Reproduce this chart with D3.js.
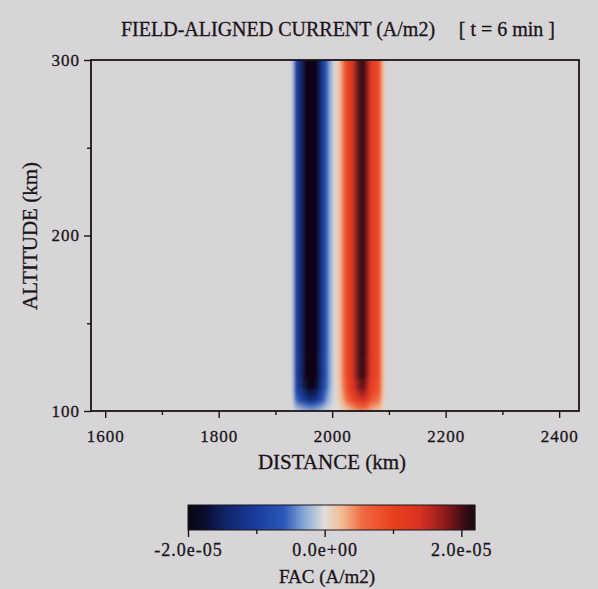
<!DOCTYPE html>
<html>
<head>
<meta charset="utf-8">
<script src="https://cdn.jsdelivr.net/npm/d3@7"></script>
<style>
  body { margin: 0; background: #d7d5d8; }
  svg { display: block; }
  text { font-family: "Liberation Serif", "DejaVu Serif", serif; fill: #1a1418; stroke: #1a1418; stroke-width: 0.3px; }
</style>
</head>
<body>
<script>
const distanceKm = [1925, 1930, 1935, 1940, 1945, 1950, 1955, 1960, 1965, 1970, 1975, 1980,
                    1985, 1990, 1995, 2000, 2005, 2010, 2015, 2020, 2025, 2030, 2035, 2040,
                    2045, 2050, 2055, 2060, 2065, 2070, 2075, 2080, 2085, 2090, 2095, 2100];
const facProfile = [0, -0.1, -0.8, -1.1, -1.4, -1.75, -2.0, -2.1, -2.1, -2.0, -1.75, -1.35,
                    -1.0, -0.6, -0.35, -0.15, -0.03, 0.15, 0.3, 0.55, 0.85, 1.1, 1.35, 1.65,
                    1.9, 2.05, 2.05, 1.85, 1.5, 1.2, 1.05, 0.95, 0.65, 0.2, 0, 0];
// altitude rows (edges, km) and how strong each sheet stays near its lower end
const altitudeEdges = [306, 130, 118, 112, 108, 105, 103, 100];
const negAmp = [1, 1, 0.95, 0.75, 0.6, 0.45, 0.2];
const posAmp = [1, 1, 0.92, 0.8, 0.65, 0.5, 0.3];

const xTicks = [1600, 1800, 2000, 2200, 2400];
const xMinor = [1700, 1900, 2100, 2300];
const yTicks = [100, 200, 300];
const yMinor = [150, 250];
const cbTicks = [-2e-5, 0, 2e-5];
const cbMinor = [-1e-5, 1e-5];
const cbLabels = ["-2.0e-05", "0.0e+00", "2.0e-05"];

const facStops = [-2.0, -1.75, -1.45, -1.0, -0.6, -0.3, 0, 0.25, 0.55, 1.0, 1.4, 1.75, 2.05, 2.2];
const facColors = ["#0a0612", "#0a0c30", "#0f2468", "#1a3c9e", "#2a58b8", "#86a8d6", "#e2dedc",
                   "#f2bc92", "#f06a42", "#e8401e", "#d83222", "#8e1c1c", "#3a0c14", "#1a0a10"];

const svg = d3.select("body").append("svg")
  .attr("width", 598)
  .attr("height", 589);

const x = d3.scaleLinear().domain([1575, 2435]).range([91, 579]);
const y = d3.scaleLinear().domain([100, 300]).range([411, 60]);
const color = d3.scaleLinear().domain(facStops).range(facColors).clamp(true);

const defs = svg.append("defs");
defs.append("clipPath").attr("id", "plotclip")
  .append("rect")
  .attr("x", x.range()[0]).attr("y", y.range()[1])
  .attr("width", x.range()[1] - x.range()[0])
  .attr("height", y.range()[0] - y.range()[1]);
defs.append("filter").attr("id", "soft")
  .attr("x", "-20%").attr("y", "-20%").attr("width", "140%").attr("height", "140%")
  .append("feGaussianBlur").attr("stdDeviation", "1.4 2.4");

// cells
const cells = [];
for (let r = 0; r < altitudeEdges.length - 1; r++) {
  distanceKm.forEach((d, i) => {
    const v = facProfile[i] * (facProfile[i] < 0 ? negAmp[r] : posAmp[r]);
    if (v === 0) return;
    const lo = i > 0 ? (d + distanceKm[i - 1]) / 2 : d - 2.5;
    const hi = i < distanceKm.length - 1 ? (d + distanceKm[i + 1]) / 2 : d + 2.5;
    cells.push({ lo, hi, top: altitudeEdges[r], bot: altitudeEdges[r + 1], v });
  });
}

svg.append("g").attr("clip-path", "url(#plotclip)")
  .append("g").attr("filter", "url(#soft)")
  .selectAll("rect")
  .data(cells)
  .enter()
  .append("rect")
  .attr("x", d => x(d.lo))
  .attr("y", d => y(d.top))
  .attr("width", d => x(d.hi) - x(d.lo) + 0.4)
  .attr("height", d => y(d.bot) - y(d.top) + 0.4)
  .attr("fill", d => color(d.v));

// axes
function styleAxis(size) {
  return g => {
    g.select(".domain").remove();
    g.selectAll("line").attr("stroke", "#1a1418").attr("stroke-width", 1.4);
    g.selectAll("text").style("font-size", size + "px").style("letter-spacing", "1px")
      .attr("fill", "#1a1418");
  };
}

svg.append("g").attr("transform", `translate(0,${y.range()[0]})`)
  .call(d3.axisBottom(x).tickValues(xTicks).tickSize(7).tickPadding(12).tickFormat(d3.format("d")))
  .call(styleAxis(17));
svg.append("g").attr("transform", `translate(0,${y.range()[0]})`)
  .call(d3.axisBottom(x).tickValues(xMinor).tickSize(4).tickFormat(""))
  .call(styleAxis(17));
svg.append("g").attr("transform", `translate(${x.range()[0]},0)`)
  .call(d3.axisLeft(y).tickValues(yTicks).tickSize(7).tickPadding(4).tickFormat(d3.format("d")))
  .call(styleAxis(17));
svg.append("g").attr("transform", `translate(${x.range()[0]},0)`)
  .call(d3.axisLeft(y).tickValues(yMinor).tickSize(4).tickFormat(""))
  .call(styleAxis(17));

svg.append("rect")
  .attr("x", x.range()[0]).attr("y", y.range()[1])
  .attr("width", x.range()[1] - x.range()[0])
  .attr("height", y.range()[0] - y.range()[1])
  .attr("fill", "none").attr("stroke", "#1a1418").attr("stroke-width", 1.8);

// titles
svg.append("text").attr("x", 121).attr("y", 36)
  .style("font-size", "20px")
  .text("FIELD-ALIGNED CURRENT (A/m2)");
svg.append("text").attr("x", 555).attr("y", 36)
  .attr("text-anchor", "end")
  .style("font-size", "20px")
  .text("[ t = 6 min ]");
svg.append("text").attr("x", 332).attr("y", 469)
  .attr("text-anchor", "middle")
  .style("font-size", "21px")
  .text("DISTANCE (km)");
svg.append("text")
  .attr("transform", "translate(37,236) rotate(-90)")
  .attr("text-anchor", "middle")
  .style("font-size", "21px")
  .text("ALTITUDE (km)");

// colorbar
const cb = d3.scaleLinear().domain([-2e-5, 2.2e-5]).range([188, 475]);
const cbTop = 505, cbH = 25;
const cbSteps = d3.range(cb.range()[0], cb.range()[1], 1);
svg.append("g").selectAll("rect")
  .data(cbSteps)
  .enter()
  .append("rect")
  .attr("x", d => d)
  .attr("y", cbTop)
  .attr("width", 1.2)
  .attr("height", cbH)
  .attr("fill", d => color(cb.invert(d + 0.5) * 1e5));
svg.append("rect")
  .attr("x", cb.range()[0]).attr("y", cbTop)
  .attr("width", cb.range()[1] - cb.range()[0]).attr("height", cbH)
  .attr("fill", "none").attr("stroke", "#1a1418").attr("stroke-width", 1);

svg.append("g").attr("transform", `translate(0,${cbTop + cbH})`)
  .call(d3.axisBottom(cb).tickValues(cbTicks).tickSize(7).tickPadding(6)
    .tickFormat((d, i) => cbLabels[i]))
  .call(styleAxis(18));
svg.append("g").attr("transform", `translate(0,${cbTop + cbH})`)
  .call(d3.axisBottom(cb).tickValues(cbMinor).tickSize(4).tickFormat(""))
  .call(styleAxis(18));

svg.append("text").attr("x", 327).attr("y", 583)
  .attr("text-anchor", "middle")
  .style("font-size", "19px")
  .text("FAC (A/m2)");
</script>
</body>
</html>
